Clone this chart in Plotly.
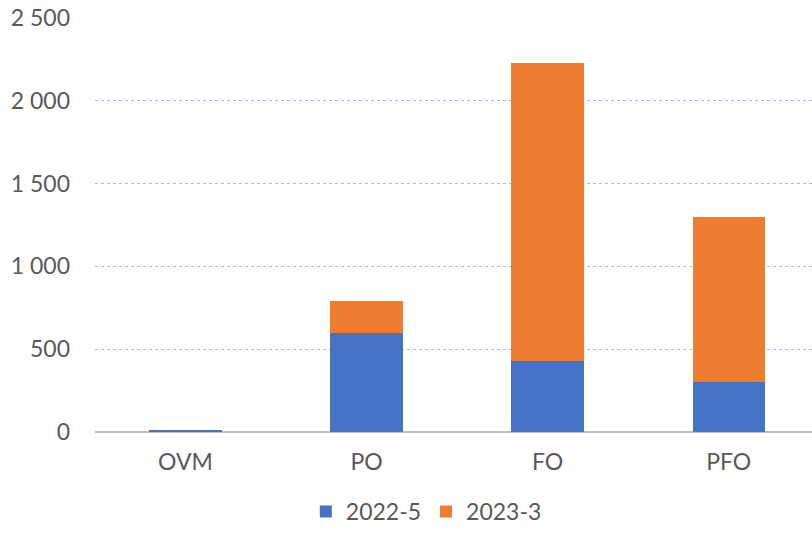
import plotly.graph_objects as go

categories = ["OVM", "PO", "FO", "PFO"]
series_2022_5 = [12, 595, 430, 300]
series_2023_3 = [0, 198, 1798, 998]
y_ticks = [0, 500, 1000, 1500, 2000, 2500]

font_family = "Lato, Carlito, 'Liberation Sans', sans-serif"
grey = "#595959"

fig = go.Figure()
fig.add_trace(go.Bar(x=categories, y=series_2022_5, name="2022-5",
                     marker=dict(color="#4472C4", line=dict(width=0))))
fig.add_trace(go.Bar(x=categories, y=series_2023_3, name="2023-3",
                     marker=dict(color="#ED7D31", line=dict(width=0))))

fig.update_layout(
    barmode="stack",
    bargap=0.6,
    width=812, height=533,
    margin=dict(l=95, r=0, t=18, b=101),
    paper_bgcolor="white", plot_bgcolor="white",
    separators=", ",
    font=dict(family=font_family, size=23, color=grey),
    showlegend=True,
    legend=dict(orientation="h", xref="container", yref="container",
                x=0.525, xanchor="center", y=-0.012, yanchor="bottom",
                font=dict(size=23, color=grey), itemwidth=30, traceorder="normal"),
    xaxis=dict(range=[-0.5, 3.46], showgrid=False, showline=False, ticks="",
               automargin=False,
               tickfont=dict(size=23, color=grey), ticklabelstandoff=14),
    yaxis=dict(range=[0, 2500], tickvals=y_ticks, tickformat=",d",
               automargin=False,
               showgrid=True, gridcolor="#A9BCE0", griddash="dot", gridwidth=1,
               zeroline=True, zerolinecolor="#BFBFBF", zerolinewidth=1.5,
               showline=False, ticks="", tickfont=dict(size=23, color=grey),
               ticklabelstandoff=24),
)

fig.write_html("out.html", config={"displayModeBar": False},
               post_script="document.body.style.margin='0';document.body.style.overflow='hidden';")
